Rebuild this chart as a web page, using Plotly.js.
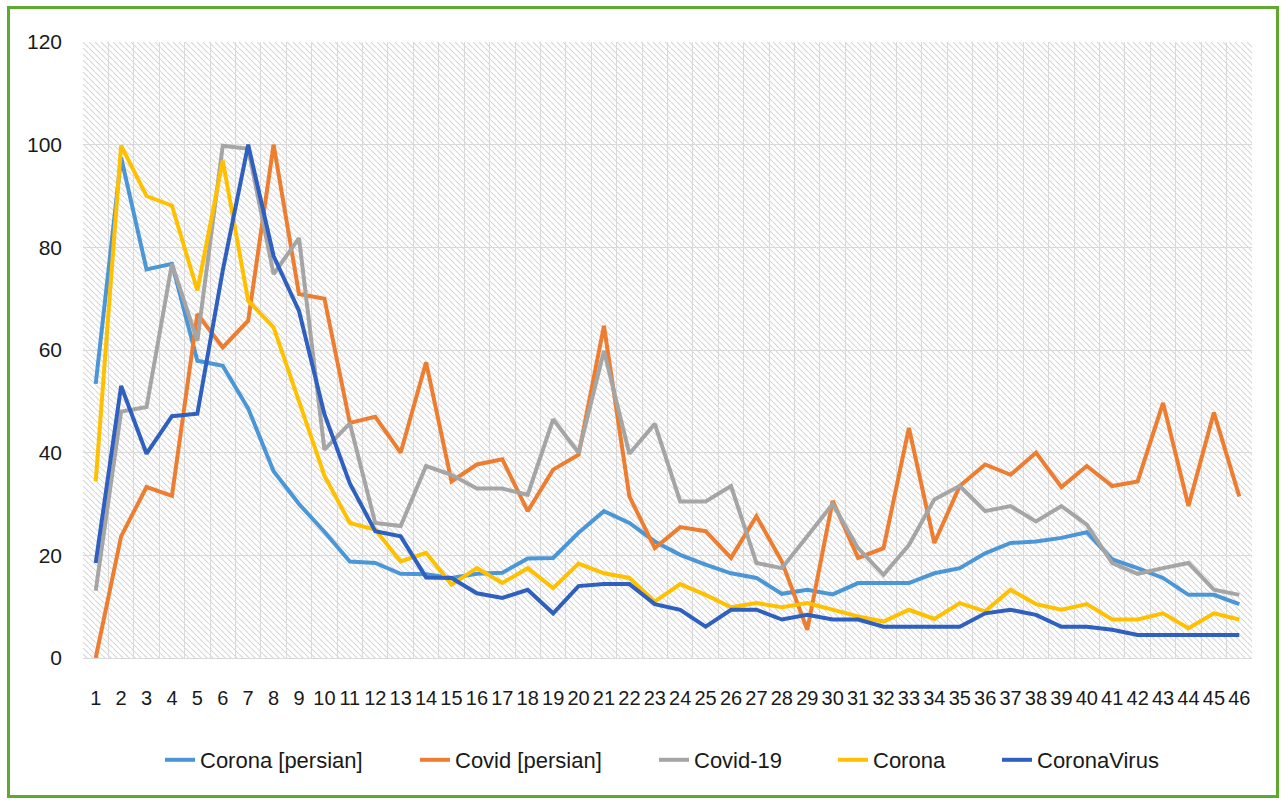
<!DOCTYPE html>
<html>
<head>
<meta charset="utf-8">
<script src="https://cdn.plot.ly/plotly-3.0.1.min.js"></script>
<style>
  html, body { margin: 0; padding: 0; background: #ffffff; }
  #chart { width: 1286px; height: 803px; }
</style>
</head>
<body>
<div id="chart"></div>
<script>
// ---- Data ----
const days = [1,2,3,4,5,6,7,8,9,10,11,12,13,14,15,16,17,18,19,20,21,22,23,24,25,26,27,28,29,30,31,32,33,34,35,36,37,38,39,40,41,42,43,44,45,46];
const dayLabels = days.map(String);

const seriesNames = ["Corona [persian]", "Covid [persian]", "Covid-19", "Corona", "CoronaVirus"];

const coronaPersian = [53.4,97.5,75.7,76.8,57.9,56.9,48.6,36.4,30,24.6,18.8,18.5,16.4,16.3,15.6,16.4,16.6,19.4,19.5,24.4,28.6,26.3,22.7,20.1,18.2,16.5,15.6,12.5,13.3,12.4,14.6,14.6,14.6,16.5,17.5,20.4,22.4,22.7,23.4,24.5,19.2,17.5,15.6,12.3,12.3,10.5];
const covidPersian = [0,23.7,33.3,31.6,67,60.5,65.7,100,70.9,70,45.8,47,40,57.6,34.4,37.7,38.7,28.6,36.7,39.6,64.7,31.5,21.4,25.5,24.7,19.5,27.6,18.8,5.5,30.6,19.5,21.4,44.8,22.4,33.5,37.7,35.7,40,33.3,37.4,33.5,34.4,49.7,29.6,47.8,31.5];
const covid19 = [13.1,48,48.9,76.8,61.8,99.8,99.2,74.8,81.8,40.6,45.7,26.3,25.7,37.4,35.7,33,33,31.8,46.5,40,59.8,39.8,45.6,30.5,30.5,33.5,18.5,17.5,23.7,30,21.4,16.2,22,30.9,33.5,28.6,29.6,26.6,29.6,26,18.5,16.4,17.5,18.5,13.3,12.3];
const corona = [34.4,99.8,90,88.1,71.6,96.9,69.6,64.4,50,35.5,26.3,25,18.8,20.5,14.3,17.5,14.6,17.5,13.6,18.4,16.5,15.6,11,14.4,12.3,9.9,10.7,9.9,10.7,9.4,8.1,7.1,9.4,7.6,10.7,9.1,13.3,10.5,9.4,10.5,7.5,7.5,8.7,5.8,8.7,7.5];
const coronaVirus = [18.5,53,39.8,47.1,47.6,75.5,100,78.3,67.6,47.5,34,24.7,23.7,15.7,15.6,12.6,11.7,13.3,8.7,14,14.4,14.4,10.5,9.4,6.1,9.4,9.4,7.5,8.4,7.5,7.5,6.1,6.1,6.1,6.1,8.7,9.4,8.4,6.1,6.1,5.5,4.5,4.5,4.5,4.5,4.5];

const yTicks = [0,20,40,60,80,100,120];

// ---- Styles ----
const colors = ["#4B96D7", "#ED7D31", "#A5A5A5", "#FFC000", "#2F5FBF"];
const allValues = [coronaPersian, covidPersian, covid19, corona, coronaVirus];

const FONT = "'Liberation Sans', Arial, sans-serif";

// geometry helpers (layout only)
const W = 1286, H = 803;
const M = { l: 83, r: 34, t: 42, b: 145 };
const plotW = W - M.l - M.r, plotH = H - M.t - M.b;
const pxToPaperX = px => (px - M.l) / plotW;
const pxToPaperY = py => (H - M.b - py) / plotH;

// legend text start positions (px) as in the reference
const legendTextStart = [200, 455, 694, 873, 1037];
const legendIds = seriesNames.map((_, i) => i === 0 ? "legend" : "legend" + (i + 1));

const traces = allValues.map((vals, i) => ({
  type: "scatter",
  mode: "lines",
  x: days,
  y: vals,
  name: seriesNames[i],
  legend: legendIds[i],
  line: { color: colors[i], width: 4, shape: "linear" },
  hoverinfo: "x+y+name"
}));

// hatch background as an SVG pattern
const hatchSvg =
  '<svg xmlns="http://www.w3.org/2000/svg" width="' + plotW + '" height="' + plotH + '">' +
  '<defs><pattern id="h" width="6" height="6" patternUnits="userSpaceOnUse">' +
  '<path d="M-1,-1 L7,7" stroke="#d6d6d6" stroke-width="1.1"/>' +
  '</pattern></defs>' +
  '<rect width="100%" height="100%" fill="#ffffff"/>' +
  '<rect width="100%" height="100%" fill="url(#h)"/>' +
  '</svg>';
const hatchUri = "data:image/svg+xml;charset=utf-8," + encodeURIComponent(hatchSvg);

// category boundaries for vertical gridlines
const boundaries = [days[0] - 0.5].concat(days.map(d => d + 0.5));

const layout = {
  width: W,
  height: H,
  margin: M,
  paper_bgcolor: "#ffffff",
  plot_bgcolor: "#ffffff",
  font: { family: FONT, color: "#1a1a1a", size: 20 },
  showlegend: true,
  xaxis: {
    type: "linear",
    range: [days[0] - 0.5, days[days.length - 1] + 0.5],
    tickmode: "array",
    tickvals: days,
    ticktext: dayLabels,
    tickangle: 0,
    ticks: "",
    showgrid: false,
    zeroline: false,
    showline: false,
    tickfont: { family: FONT, size: 20, color: "#1a1a1a" },
    ticklabelstandoff: 26,
    fixedrange: true,
    minor: {
      tickmode: "array",
      tickvals: boundaries,
      showgrid: true,
      gridcolor: "#d9d9d9",
      gridwidth: 1,
      ticks: ""
    }
  },
  yaxis: {
    range: [0, 120],
    tickmode: "array",
    tickvals: yTicks,
    ticks: "",
    showgrid: true,
    gridcolor: "#d9d9d9",
    gridwidth: 1,
    zeroline: true,
    zerolinecolor: "#d9d9d9",
    zerolinewidth: 1,
    showline: false,
    tickfont: { family: FONT, size: 21, color: "#1a1a1a" },
    ticklabelstandoff: 20,
    fixedrange: true
  },
  images: [{
    source: hatchUri,
    xref: "paper", yref: "paper",
    x: 0, y: 1, sizex: 1, sizey: 1,
    xanchor: "left", yanchor: "top",
    sizing: "stretch",
    layer: "below"
  }],
  shapes: [{
    type: "rect",
    xref: "paper", yref: "paper",
    x0: pxToPaperX(8.5), x1: pxToPaperX(1277.5),
    y0: pxToPaperY(796.5), y1: pxToPaperY(7.5),
    line: { color: "#5DAA2F", width: 3 },
    fillcolor: "rgba(0,0,0,0)",
    layer: "above"
  }]
};

legendIds.forEach((id, i) => {
  layout[id] = {
    orientation: "h",
    xref: "container",
    yref: "container",
    x: (legendTextStart[i] - 40) / W,
    xanchor: "left",
    y: 1 - 760 / H,
    yanchor: "middle",
    font: { family: FONT, size: 22, color: "#1a1a1a" },
    itemwidth: 30,
    bgcolor: "rgba(0,0,0,0)"
  };
});

Plotly.newPlot("chart", traces, layout, { displayModeBar: false, staticPlot: true });
</script>
</body>
</html>
